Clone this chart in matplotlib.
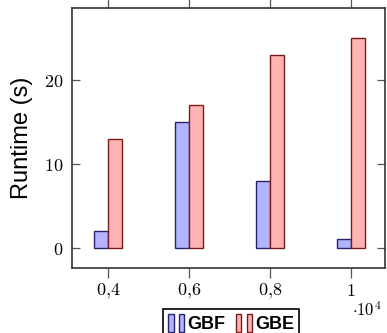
import matplotlib
matplotlib.use('Agg')
import matplotlib.pyplot as plt
from matplotlib.patches import Rectangle
from matplotlib.legend_handler import HandlerTuple
from matplotlib.ticker import FixedLocator, FuncFormatter

plt.rcParams['mathtext.fontset'] = 'cm'

# data
sizes = [4000, 6000, 8000, 10000]
gbf = [2, 15, 8, 1]
gbe = [13, 17, 23, 25]
series_names = ['GBF', 'GBE']

blue_fill, blue_edge = '#b3b3ff', '#24246e'
red_fill, red_edge = '#ffb3b3', '#7a1a1a'
w = 340

fig = plt.figure(figsize=(3.87, 3.33), dpi=100)
ax = fig.add_axes([0.186, 0.195, 0.809, 0.781])

ax.bar([s - w / 2 for s in sizes], gbf, width=w, color=blue_fill,
       edgecolor=blue_edge, linewidth=1)
ax.bar([s + w / 2 for s in sizes], gbe, width=w, color=red_fill,
       edgecolor=red_edge, linewidth=1)

ax.set_xlim(3111, 10840)
ax.set_ylim(-2.44, 28.6)

ax.xaxis.set_major_locator(FixedLocator(sizes))
ax.xaxis.set_major_formatter(FuncFormatter(
    lambda v, p: '$1$' if v == 10000 else '$%s$' % ('{0:g}'.format(v / 1e4).replace('.', '{,}'))))
ax.yaxis.set_major_locator(FixedLocator([0, 10, 20]))
ax.yaxis.set_major_formatter(FuncFormatter(lambda v, p: '$%d$' % v))

ax.tick_params(axis='x', direction='out', top=True, length=7, width=0.9,
               color='#555555', labelsize=13, pad=3)
ax.tick_params(axis='y', direction='in', right=True, length=6, width=0.9,
               color='#555555', labelsize=13, pad=6)
for sp in ax.spines.values():
    sp.set_color('#333333')
    sp.set_linewidth(1.2)

ax.set_ylabel('Runtime (s)', family='Liberation Sans', fontsize=17, labelpad=8)

fig.text(0.985, 0.052, r'$\cdot 10^4$', ha='right', va='baseline', fontsize=12)

h1 = (Rectangle((0, 0), 1, 1, fc=blue_fill, ec=blue_edge, lw=1),
      Rectangle((0, 0), 1, 1, fc=blue_fill, ec=blue_edge, lw=1))
h2 = (Rectangle((0, 0), 1, 1, fc=red_fill, ec=red_edge, lw=1),
      Rectangle((0, 0), 1, 1, fc=red_fill, ec=red_edge, lw=1))
leg = fig.legend([h1, h2], series_names, loc='upper center',
                 bbox_to_anchor=(0.597, 0.072), ncol=2, borderaxespad=0,
                 handler_map={tuple: HandlerTuple(ndivide=None, pad=0.3)},
                 handlelength=0.9, handleheight=1.1, handletextpad=0.15,
                 columnspacing=0.6, borderpad=0.3, fancybox=False,
                 edgecolor='black', framealpha=1,
                 prop={'family': 'Liberation Sans', 'weight': 'bold', 'size': 13})
leg.get_frame().set_linewidth(1.2)

fig.savefig('out.png', dpi=100)
